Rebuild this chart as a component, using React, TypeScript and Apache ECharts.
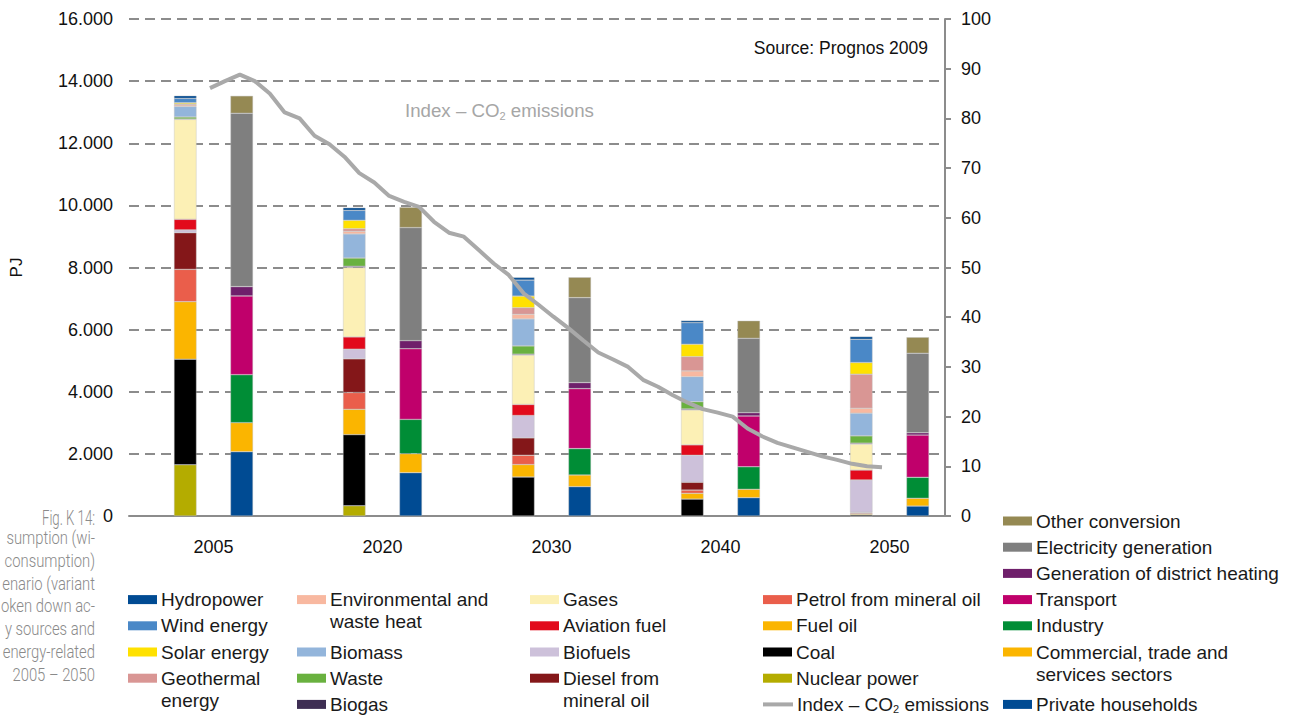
import { useEffect, useRef } from 'react';
import * as echarts from 'echarts';

const years = ['2005', '2020', '2030', '2040', '2050'];

// Primary energy by source, PJ (left bar of each year, bottom to top)
const nuclearPower = [1650, 330, 0, 0, 0];
const coal = [3400, 2290, 1255, 545, 40];
const fuelOil = [1850, 815, 400, 185, 30];
const petrol = [1040, 540, 300, 105, 30];
const diesel = [1180, 1085, 560, 250, 15];
const biofuels = [90, 310, 720, 870, 1045];
const aviationFuel = [340, 395, 355, 335, 320];
const gases = [3220, 2235, 1590, 1125, 835];
const biogas = [10, 40, 30, 30, 30];
const waste = [65, 265, 265, 235, 235];
const biomass = [340, 775, 870, 805, 730];
const envHeat = [50, 85, 150, 185, 160];
const geothermal = [30, 85, 210, 460, 1095];
const solar = [40, 270, 375, 400, 375];
const wind = [140, 320, 515, 695, 750];
const hydropower = [85, 85, 85, 65, 85];

// Consumption by sector, PJ (right bar of each year, bottom to top)
const households = [2070, 1395, 945, 590, 320];
const commercial = [935, 610, 375, 270, 250];
const industry = [1545, 1105, 850, 725, 675];
const transport = [2535, 2275, 1930, 1635, 1360];
const districtHeating = [300, 260, 195, 105, 75];
const electricityGen = [5580, 3640, 2735, 2395, 2560];
const otherConversion = [560, 655, 655, 565, 515];

// CO2 emission index, yearly 2005 – 2050
const co2FirstYear = 2005;
const co2Index = [
  86.1, 87.5, 88.8, 87.5, 85.0, 81.2, 80.0, 76.5, 74.8, 72.3,
  69.0, 67.1, 64.4, 63.2, 62.2, 59.2, 57.0, 56.2, 53.5, 50.8,
  48.5, 44.8, 42.5, 40.1, 37.8, 35.3, 32.9, 31.5, 30.0, 27.4,
  26.0, 24.3, 22.8, 21.5, 20.8, 20.0, 17.6, 16.0, 14.7, 13.8,
  12.9, 12.0, 11.3, 10.5, 10.0, 9.8,
];

const leftTicks = { min: 0, max: 16000, interval: 2000 };
const rightTicks = { min: 0, max: 100, interval: 10 };

const supplySeries: [string, number[]][] = [
  ['Nuclear power', nuclearPower],
  ['Coal', coal],
  ['Fuel oil', fuelOil],
  ['Petrol from mineral oil', petrol],
  ['Diesel from mineral oil', diesel],
  ['Biofuels', biofuels],
  ['Aviation fuel', aviationFuel],
  ['Gases', gases],
  ['Biogas', biogas],
  ['Waste', waste],
  ['Biomass', biomass],
  ['Environmental and waste heat', envHeat],
  ['Geothermal energy', geothermal],
  ['Solar energy', solar],
  ['Wind energy', wind],
  ['Hydropower', hydropower],
];

const demandSeries: [string, number[]][] = [
  ['Private households', households],
  ['Commercial, trade and services sectors', commercial],
  ['Industry', industry],
  ['Transport', transport],
  ['Generation of district heating', districtHeating],
  ['Electricity generation', electricityGen],
  ['Other conversion', otherConversion],
];

const CO2_NAME = 'Index – CO2 emissions';

const colors: Record<string, string> = {
  'Hydropower': '#004b93',
  'Wind energy': '#4a88c7',
  'Solar energy': '#ffe100',
  'Geothermal energy': '#d99694',
  'Environmental and waste heat': '#f8b8a0',
  'Biomass': '#93b5db',
  'Waste': '#69b13f',
  'Biogas': '#3e2e53',
  'Gases': '#fcf0b5',
  'Aviation fuel': '#e20a1b',
  'Biofuels': '#cdc1da',
  'Diesel from mineral oil': '#841719',
  'Petrol from mineral oil': '#ea5e4b',
  'Fuel oil': '#fbb500',
  'Coal': '#000000',
  'Nuclear power': '#b4ac00',
  'Other conversion': '#958953',
  'Electricity generation': '#7f7f7f',
  'Generation of district heating': '#6f1f6b',
  'Transport': '#c0006b',
  'Industry': '#008d36',
  'Commercial, trade and services sectors': '#fbb500',
  'Private households': '#004b93',
  [CO2_NAME]: '#a9a9a9',
};

const legendLabels: Record<string, string> = {
  'Geothermal energy': 'Geothermal\nenergy',
  'Environmental and waste heat': 'Environmental and\nwaste heat',
  'Diesel from mineral oil': 'Diesel from\nmineral oil',
  'Commercial, trade and services sectors': 'Commercial, trade and\nservices sectors',
};

// legend columns: [series name, row]
const legendColumns: [string, number][][] = [
  [['Hydropower', 3], ['Wind energy', 4], ['Solar energy', 5], ['Geothermal energy', 6]],
  [['Environmental and waste heat', 3], ['Biomass', 5], ['Waste', 6], ['Biogas', 7]],
  [['Gases', 3], ['Aviation fuel', 4], ['Biofuels', 5], ['Diesel from mineral oil', 6]],
  [['Petrol from mineral oil', 3], ['Fuel oil', 4], ['Coal', 5], ['Nuclear power', 6], [CO2_NAME, 7]],
  [
    ['Other conversion', 0], ['Electricity generation', 1], ['Generation of district heating', 2],
    ['Transport', 3], ['Industry', 4], ['Commercial, trade and services sectors', 5], ['Private households', 7],
  ],
];

const captionTitle = 'Fig. K 14:';
const captionLines = [
  'sumption (wi-',
  'consumption)',
  'enario (variant',
  'oken down ac-',
  'y sources and',
  'energy-related',
  '2005 – 2050',
];

const FONT = "'Liberation Sans', Arial, sans-serif";

function formatThousands(v: number) {
  return String(v).replace(/\B(?=(\d{3})+(?!\d))/g, '.');
}

function buildLegend() {
  const colX = [128, 297, 530, 763, 1003];
  const rowY = (r: number) => 521 + r * 26.2;
  const items: any[] = [];
  legendColumns.forEach((col, ci) => {
    col.forEach(([name, row]) => {
      const y = rowY(row);
      const x = colX[ci];
      if (name === CO2_NAME) {
        items.push({
          type: 'line',
          shape: { x1: x, y1: y, x2: x + 30, y2: y },
          style: { stroke: colors[name], lineWidth: 4 },
        });
        items.push({
          type: 'text',
          x: x + 34,
          y: y - 11,
          style: {
            text: 'Index – CO{sub|2} emissions',
            font: `19px ${FONT}`,
            fill: '#1a1a1a',
            lineHeight: 22,
            textVerticalAlign: 'top',
            rich: {
              sub: { fontSize: 11, fontFamily: FONT, fill: '#1a1a1a', padding: [10, 0, 0, 0] },
            },
          },
        });
        return;
      }
      items.push({
        type: 'rect',
        shape: { x, y: y - 4.5, width: 29, height: 9 },
        style: { fill: colors[name] },
      });
      items.push({
        type: 'text',
        x: x + 33,
        y: y - 11,
        style: {
          text: legendLabels[name] ?? name,
          font: `19px ${FONT}`,
          fill: '#1a1a1a',
          lineHeight: 22,
          textVerticalAlign: 'top',
        },
      });
    });
  });
  return items;
}

export default function App() {
  const ref = useRef<HTMLDivElement>(null);

  useEffect(() => {
    if (!ref.current) return;
    const chart = echarts.init(ref.current, undefined, { renderer: 'svg' });

    const barCommon = {
      type: 'bar' as const,
      xAxisIndex: 1,
      yAxisIndex: 2,
      barWidth: 22.5,
      barGap: '151%',
      itemStyle: { borderColor: 'rgba(190,190,190,0.8)', borderWidth: 0.5 },
      emphasis: { disabled: true },
    };

    const series: any[] = [
      ...supplySeries.map(([name, data]) => ({
        ...barCommon,
        name,
        stack: 'supply',
        data,
        itemStyle: { ...barCommon.itemStyle, color: colors[name] },
      })),
      ...demandSeries.map(([name, data]) => ({
        ...barCommon,
        name,
        stack: 'demand',
        data,
        itemStyle: { ...barCommon.itemStyle, color: colors[name] },
      })),
      {
        type: 'line',
        name: CO2_NAME,
        xAxisIndex: 2,
        yAxisIndex: 3,
        data: co2Index.map((v, i) => [co2FirstYear + i, v]),
        showSymbol: false,
        symbol: 'none',
        lineStyle: { color: colors[CO2_NAME], width: 4 },
        z: 5,
      },
    ];

    const axisGray = '#8c8c8c';

    chart.setOption({
      animation: false,
      grid: [
        // axes frame
        { left: 128, right: 349, top: 19, bottom: 202 },
        // bars
        { left: 129, right: 320, top: 19, bottom: 202 },
        // CO2 index line
        { left: 210, right: 412, top: 19, bottom: 202 },
      ],
      xAxis: [
        {
          gridIndex: 0,
          type: 'value',
          min: 0,
          max: 1,
          axisLine: { show: true, onZero: false, lineStyle: { color: axisGray, width: 2 } },
          axisTick: { show: false },
          axisLabel: { show: false },
          splitLine: { show: false },
        },
        {
          gridIndex: 1,
          type: 'category',
          data: years,
          axisLine: { show: false },
          axisTick: { show: false },
          axisLabel: { color: '#111', fontSize: 18, fontFamily: FONT, margin: 22 },
        },
        { gridIndex: 2, type: 'value', min: 2005, max: 2050, show: false },
      ],
      yAxis: [
        {
          gridIndex: 0,
          type: 'value',
          ...leftTicks,
          name: 'PJ',
          nameLocation: 'middle',
          nameGap: 104,
          nameRotate: 90,
          nameTextStyle: { color: '#111', fontSize: 17, fontFamily: FONT },
          axisLine: { show: false },
          axisTick: { show: false },
          axisLabel: { color: '#111', fontSize: 18, fontFamily: FONT, margin: 16, formatter: formatThousands },
          splitLine: { show: true, lineStyle: { color: axisGray, width: 2, type: [10, 6] } },
        },
        {
          gridIndex: 0,
          type: 'value',
          position: 'right',
          ...rightTicks,
          axisLine: { show: true, lineStyle: { color: axisGray, width: 2 } },
          axisTick: { show: true, length: 6, lineStyle: { color: axisGray, width: 2 } },
          axisLabel: { color: '#111', fontSize: 18, fontFamily: FONT, margin: 16 },
          splitLine: { show: false },
        },
        { gridIndex: 1, type: 'value', ...leftTicks, show: false },
        { gridIndex: 2, type: 'value', ...rightTicks, show: false },
      ],
      series,
      graphic: [
        {
          type: 'text',
          x: 928,
          y: 48,
          style: {
            text: 'Source: Prognos 2009',
            font: `17.5px ${FONT}`,
            fill: '#111',
            textAlign: 'right',
            textVerticalAlign: 'middle',
          },
        },
        {
          type: 'text',
          x: 405,
          y: 100,
          style: {
            text: 'Index – CO{sub|2} emissions',
            font: `18.7px ${FONT}`,
            fill: '#a6a6a6',
            textVerticalAlign: 'top',
            rich: { sub: { fontSize: 11, fontFamily: FONT, fill: '#a6a6a6', padding: [10, 0, 0, 0] } },
          },
        },
        {
          type: 'text',
          x: 95,
          y: 508,
          scaleX: 0.66,
          style: {
            text: captionTitle,
            font: `300 20px Roboto, ${FONT}`,
            fill: '#8a8a8a',
            textAlign: 'right',
            textVerticalAlign: 'top',
          },
        },
        {
          type: 'text',
          x: 95,
          y: 526,
          scaleX: 0.78,
          style: {
            text: captionLines.join('\n'),
            font: `300 19px Roboto, ${FONT}`,
            fill: '#8a8a8a',
            textAlign: 'right',
            textVerticalAlign: 'top',
            lineHeight: 22.8,
          },
        },
        ...buildLegend(),
      ],
    });

    return () => chart.dispose();
  }, []);

  return <div ref={ref} style={{ position: 'absolute', left: 0, top: 0, width: 1294, height: 718 }} />;
}
